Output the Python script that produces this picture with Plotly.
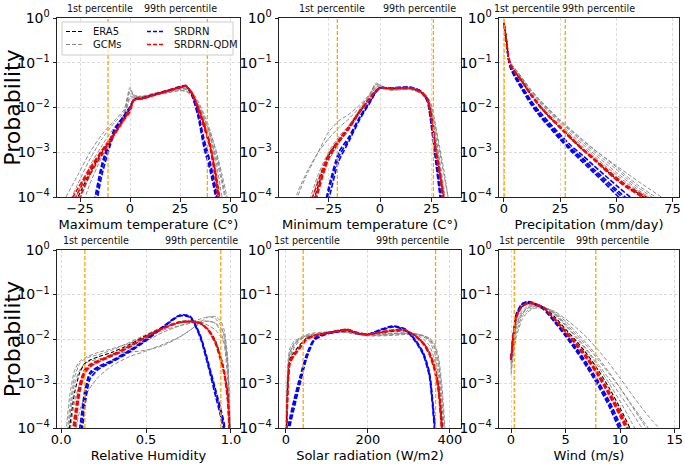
import numpy as np
import plotly.graph_objects as go

# ------------------------------------------------------------------
# Data.  All curve values are log10(probability).
# ------------------------------------------------------------------

# ---- Maximum temperature ----
maxT_x = [-32, -26, -20, -14, -8, -3, 0, 2, 6, 12, 18, 24, 28, 31, 34, 37, 40, 43, 46, 50]
maxT_era5 = [-4.6, -4.0, -3.45, -3.0, -2.6, -2.25, -2.02, -1.82, -1.80, -1.72, -1.64, -1.57, -1.53, -1.69, -2.03, -2.4, -2.85, -3.53, -4.5, -6.0]
maxT_gcms = [
    [-4.0, -3.5, -3.0, -2.6, -2.3, -2.05, -1.55, -1.75, -1.78, -1.72, -1.67, -1.62, -1.64, -1.75, -2.0, -2.3, -2.65, -3.1, -3.7, -4.6],
    [-4.6, -3.9, -3.3, -2.85, -2.45, -2.15, -1.65, -1.75, -1.76, -1.72, -1.66, -1.6, -1.6, -1.7, -1.95, -2.25, -2.6, -3.2, -4.0, -5.0],
    [-5.2, -4.2, -3.5, -3.0, -2.55, -2.2, -1.75, -1.77, -1.76, -1.70, -1.64, -1.58, -1.58, -1.68, -1.9, -2.2, -2.6, -3.4, -4.3, -5.5],
    [-5.5, -4.5, -3.7, -3.1, -2.6, -2.25, -1.8, -1.78, -1.75, -1.68, -1.62, -1.57, -1.57, -1.65, -1.85, -2.15, -2.5, -3.0, -3.6, -4.5],
    [-4.3, -3.7, -3.15, -2.7, -2.35, -2.1, -1.6, -1.72, -1.75, -1.72, -1.68, -1.63, -1.63, -1.72, -1.95, -2.25, -2.55, -2.95, -3.5, -4.3],
]
maxT_srdrn = [
    [-7.0, -6.2, -4.8, -3.35, -2.55, -2.2, -2.0, -1.82, -1.79, -1.71, -1.63, -1.55, -1.51, -1.72, -2.15, -2.8, -3.3, -3.95, -5.0, -6.5],
    [-7.0, -6.5, -5.0, -3.5, -2.6, -2.22, -2.02, -1.83, -1.80, -1.72, -1.64, -1.56, -1.52, -1.74, -2.2, -2.9, -3.4, -4.05, -5.2, -6.5],
    [-7.0, -6.0, -4.6, -3.25, -2.5, -2.18, -1.98, -1.81, -1.79, -1.71, -1.63, -1.55, -1.51, -1.70, -2.1, -2.7, -3.2, -3.85, -4.9, -6.5],
]
maxT_qdm = [
    [-4.5, -3.9, -3.4, -2.98, -2.6, -2.27, -2.05, -1.83, -1.80, -1.72, -1.64, -1.56, -1.52, -1.68, -2.0, -2.38, -2.85, -3.6, -4.6, -6.0],
    [-4.8, -4.1, -3.5, -3.05, -2.63, -2.28, -2.1, -1.84, -1.81, -1.73, -1.65, -1.57, -1.53, -1.67, -1.98, -2.35, -2.8, -3.5, -4.4, -6.0],
    [-4.3, -3.8, -3.35, -2.95, -2.58, -2.24, -2.0, -1.82, -1.79, -1.71, -1.63, -1.56, -1.52, -1.70, -2.05, -2.45, -2.9, -3.7, -4.8, -6.0],
]
maxT_pct = [-11.0, 38.7]
maxT_tickvals = [-25, 0, 25, 50]
maxT_ticktext = ["\u221225", "0", "25", "50"]

# ---- Minimum temperature ----
minT_x = [-45, -40, -35, -30, -25, -20, -15, -10, -5, -2, 0, 5, 10, 15, 20, 23, 25, 27, 29, 31, 33, 36]
minT_era5 = [-6.0, -5.2, -4.5, -3.75, -3.08, -2.74, -2.44, -2.1, -1.8, -1.62, -1.56, -1.58, -1.57, -1.57, -1.66, -1.8, -2.2, -2.95, -3.45, -4.1, -4.9, -6.0]
minT_gcms = [
    [-5.0, -4.0, -3.45, -3.0, -2.55, -2.3, -2.15, -1.95, -1.7, -1.45, -1.5, -1.6, -1.6, -1.6, -1.68, -1.82, -2.05, -2.5, -3.0, -3.5, -4.0, -5.0],
    [-4.6, -3.9, -3.4, -3.0, -2.7, -2.45, -2.25, -2.0, -1.72, -1.5, -1.5, -1.6, -1.6, -1.58, -1.65, -1.78, -2.0, -2.6, -3.2, -3.8, -4.5, -5.5],
    [-6.0, -5.0, -4.2, -3.5, -3.0, -2.65, -2.4, -2.1, -1.75, -1.55, -1.52, -1.6, -1.58, -1.58, -1.7, -1.85, -2.15, -2.8, -3.4, -4.1, -4.8, -6.0],
    [-6.0, -5.5, -4.6, -3.8, -3.2, -2.8, -2.5, -2.15, -1.78, -1.55, -1.55, -1.62, -1.6, -1.59, -1.65, -1.75, -1.95, -2.4, -2.9, -3.4, -4.0, -5.0],
    [-6.0, -5.3, -4.4, -3.6, -3.05, -2.7, -2.4, -2.05, -1.72, -1.48, -1.52, -1.58, -1.6, -1.6, -1.68, -1.8, -2.1, -2.7, -3.3, -4.0, -4.8, -6.0],
]
minT_srdrn = [
    [-7.0, -7.0, -6.5, -5.2, -3.9, -3.1, -2.7, -2.25, -1.88, -1.65, -1.56, -1.57, -1.55, -1.55, -1.64, -1.85, -2.4, -3.1, -3.85, -4.6, -5.5, -7.0],
    [-7.0, -7.0, -6.8, -5.5, -4.1, -3.2, -2.75, -2.28, -1.9, -1.66, -1.57, -1.57, -1.56, -1.56, -1.65, -1.87, -2.45, -3.2, -3.95, -4.7, -5.6, -7.0],
    [-7.0, -7.0, -6.2, -5.0, -3.8, -3.0, -2.65, -2.22, -1.86, -1.64, -1.56, -1.56, -1.55, -1.55, -1.64, -1.83, -2.35, -3.05, -3.8, -4.5, -5.4, -7.0],
]
minT_qdm = [
    [-6.0, -5.3, -4.6, -3.8, -3.1, -2.75, -2.45, -2.1, -1.8, -1.62, -1.56, -1.57, -1.56, -1.56, -1.65, -1.82, -2.25, -2.95, -3.5, -4.2, -5.0, -6.0],
    [-6.0, -5.0, -4.3, -3.65, -3.05, -2.72, -2.42, -2.08, -1.79, -1.62, -1.56, -1.57, -1.56, -1.57, -1.66, -1.8, -2.2, -2.9, -3.4, -4.0, -4.8, -6.0],
    [-6.0, -5.5, -4.8, -3.9, -3.15, -2.78, -2.47, -2.12, -1.81, -1.63, -1.57, -1.58, -1.57, -1.57, -1.66, -1.83, -2.3, -3.0, -3.55, -4.25, -5.1, -6.0],
]
minT_pct = [-20.7, 25.9]
minT_tickvals = [-25, 0, 25]
minT_ticktext = ["\u221225", "0", "25"]

# ---- Precipitation ----
precip_x = [0, 1, 2, 3, 5, 8, 12, 16, 20, 25, 30, 35, 40, 45, 50, 55, 60, 65, 70, 75]
precip_era5 = [-0.12, -0.46, -0.86, -1.06, -1.22, -1.42, -1.72, -1.98, -2.2, -2.45, -2.7, -2.94, -3.15, -3.38, -3.6, -3.78, -3.93, -4.1, -4.3, -4.5]
precip_gcms = [
    [-0.1, -0.43, -0.82, -1.0, -1.13, -1.33, -1.6, -1.83, -2.03, -2.28, -2.5, -2.72, -2.93, -3.13, -3.33, -3.55, -3.75, -3.92, -4.08, -4.25],
    [-0.1, -0.44, -0.83, -1.02, -1.15, -1.35, -1.63, -1.87, -2.07, -2.32, -2.55, -2.77, -2.98, -3.18, -3.38, -3.6, -3.8, -3.97, -4.15, -4.35],
    [-0.11, -0.45, -0.84, -1.03, -1.17, -1.37, -1.66, -1.9, -2.1, -2.36, -2.6, -2.82, -3.03, -3.24, -3.45, -3.65, -3.85, -4.02, -4.2, -4.4],
    [-0.1, -0.44, -0.83, -1.01, -1.14, -1.34, -1.61, -1.85, -2.05, -2.3, -2.52, -2.73, -2.94, -3.12, -3.3, -3.48, -3.66, -3.83, -4.0, -4.2],
    [-0.11, -0.45, -0.85, -1.04, -1.19, -1.39, -1.69, -1.94, -2.15, -2.4, -2.64, -2.87, -3.08, -3.3, -3.5, -3.7, -3.88, -4.05, -4.22, -4.4],
]
precip_srdrn = [
    [-0.12, -0.5, -0.9, -1.1, -1.3, -1.55, -1.88, -2.15, -2.37, -2.65, -2.92, -3.13, -3.38, -3.6, -3.83, -4.05, -4.3, -4.55, -4.8, -5.0],
    [-0.12, -0.52, -0.92, -1.13, -1.34, -1.6, -1.93, -2.2, -2.43, -2.72, -2.98, -3.22, -3.46, -3.7, -3.95, -4.2, -4.45, -4.7, -5.0, -5.2],
    [-0.12, -0.49, -0.89, -1.08, -1.27, -1.52, -1.84, -2.1, -2.33, -2.6, -2.86, -3.07, -3.3, -3.52, -3.74, -3.95, -4.15, -4.4, -4.65, -4.9],
    [-0.12, -0.51, -0.91, -1.12, -1.32, -1.57, -1.9, -2.17, -2.4, -2.68, -2.95, -3.17, -3.42, -3.65, -3.88, -4.12, -4.37, -4.62, -4.9, -5.1],
]
precip_qdm = [
    [-0.12, -0.47, -0.86, -1.06, -1.21, -1.41, -1.71, -1.97, -2.19, -2.44, -2.69, -2.93, -3.15, -3.37, -3.58, -3.77, -3.93, -4.1, -4.3, -4.5],
    [-0.12, -0.47, -0.87, -1.07, -1.23, -1.43, -1.73, -1.99, -2.21, -2.46, -2.71, -2.95, -3.17, -3.4, -3.62, -3.8, -3.96, -4.15, -4.35, -4.55],
    [-0.12, -0.46, -0.85, -1.05, -1.2, -1.4, -1.7, -1.96, -2.18, -2.43, -2.68, -2.92, -3.13, -3.35, -3.56, -3.75, -3.9, -4.05, -4.25, -4.45],
]
precip_pct = [0.1, 27.3]
precip_tickvals = [0, 25, 50, 75]
precip_ticktext = ["0", "25", "50", "75"]

# ---- Relative humidity ----
rh_x = [0.02, 0.05, 0.08, 0.11, 0.14, 0.17, 0.22, 0.3, 0.4, 0.5, 0.6, 0.7, 0.76, 0.82, 0.87, 0.91, 0.94, 0.96, 0.98, 0.995]
rh_era5 = [-5.5, -4.0, -3.2, -2.75, -2.55, -2.47, -2.4, -2.3, -2.13, -1.92, -1.75, -1.63, -1.61, -1.66, -1.8, -2.05, -2.4, -2.7, -3.2, -4.2]
rh_gcms = [
    [-4.5, -3.3, -2.7, -2.5, -2.42, -2.37, -2.3, -2.22, -2.1, -1.95, -1.8, -1.7, -1.65, -1.6, -1.6, -1.65, -1.75, -1.9, -2.5, -4.0],
    [-6.0, -5.0, -4.2, -3.6, -3.3, -3.1, -2.85, -2.6, -2.4, -2.27, -2.12, -1.95, -1.8, -1.62, -1.5, -1.5, -1.6, -1.8, -2.4, -4.0],
    [-5.0, -3.8, -3.0, -2.7, -2.55, -2.5, -2.45, -2.38, -2.25, -2.05, -1.85, -1.7, -1.62, -1.55, -1.5, -1.55, -1.7, -1.95, -2.6, -4.2],
    [-5.5, -4.2, -3.4, -3.0, -2.8, -2.65, -2.5, -2.35, -2.3, -2.25, -2.15, -1.95, -1.8, -1.65, -1.6, -1.65, -1.85, -2.1, -2.9, -4.5],
    [-5.0, -3.6, -2.85, -2.55, -2.45, -2.4, -2.35, -2.25, -2.08, -1.9, -1.72, -1.6, -1.58, -1.62, -1.7, -1.8, -1.95, -2.1, -2.6, -4.0],
]
rh_srdrn = [
    [-7.0, -6.5, -5.0, -4.3, -3.3, -2.8, -2.65, -2.5, -2.28, -2.02, -1.73, -1.47, -1.5, -1.95, -2.62, -3.2, -3.65, -4.0, -5.0, -6.0],
    [-7.0, -6.8, -5.3, -4.6, -3.5, -2.9, -2.68, -2.52, -2.3, -2.04, -1.74, -1.48, -1.52, -1.98, -2.68, -3.3, -3.75, -4.1, -5.1, -6.0],
    [-7.0, -6.2, -4.8, -4.0, -3.15, -2.75, -2.62, -2.48, -2.26, -2.0, -1.72, -1.46, -1.49, -1.92, -2.58, -3.15, -3.58, -3.9, -4.9, -6.0],
]
rh_qdm = [
    [-6.0, -5.0, -3.9, -3.1, -2.72, -2.6, -2.5, -2.37, -2.18, -1.95, -1.76, -1.62, -1.6, -1.64, -1.82, -2.1, -2.45, -2.75, -3.3, -4.5],
    [-6.0, -4.7, -3.7, -3.0, -2.68, -2.57, -2.48, -2.35, -2.16, -1.94, -1.75, -1.62, -1.6, -1.65, -1.83, -2.12, -2.5, -2.8, -3.4, -4.6],
    [-6.0, -5.3, -4.1, -3.2, -2.76, -2.62, -2.52, -2.38, -2.19, -1.96, -1.77, -1.63, -1.61, -1.64, -1.8, -2.08, -2.42, -2.72, -3.25, -4.4],
]
rh_pct = [0.14, 0.94]
rh_tickvals = [0.0, 0.5, 1.0]
rh_ticktext = ["0.0", "0.5", "1.0"]

# ---- Solar radiation ----
solar_x = [0, 5, 10, 20, 35, 50, 70, 100, 130, 150, 175, 200, 230, 260, 290, 315, 335, 350, 362, 372, 380, 388, 395]
solar_era5 = [-4.5, -2.9, -2.45, -2.3, -2.12, -1.98, -1.92, -1.86, -1.81, -1.79, -1.87, -1.9, -1.86, -1.83, -1.82, -1.92, -2.08, -2.3, -2.6, -3.05, -3.8, -5.0, -6.0]
solar_gcms = [
    [-4.0, -2.5, -2.2, -2.05, -1.98, -1.93, -1.9, -1.88, -1.86, -1.86, -1.9, -1.92, -1.92, -1.9, -1.88, -1.88, -1.92, -2.0, -2.15, -2.5, -3.2, -4.2, -5.0],
    [-4.5, -2.8, -2.4, -2.15, -2.0, -1.92, -1.88, -1.86, -1.84, -1.84, -1.88, -1.9, -1.9, -1.88, -1.86, -1.88, -1.95, -2.05, -2.3, -2.8, -3.6, -4.8, -6.0],
    [-4.2, -2.6, -2.3, -2.1, -2.0, -1.95, -1.9, -1.87, -1.85, -1.85, -1.9, -1.93, -1.93, -1.92, -1.9, -1.9, -1.93, -1.98, -2.1, -2.4, -3.0, -4.0, -5.0],
    [-4.8, -3.0, -2.5, -2.2, -2.02, -1.95, -1.9, -1.85, -1.83, -1.83, -1.87, -1.9, -1.88, -1.87, -1.87, -1.9, -2.0, -2.15, -2.45, -3.0, -3.9, -5.0, -6.0],
    [-4.3, -2.65, -2.3, -2.1, -1.97, -1.9, -1.86, -1.84, -1.83, -1.84, -1.89, -1.91, -1.9, -1.89, -1.88, -1.89, -1.93, -2.02, -2.2, -2.6, -3.4, -4.5, -5.5],
]
solar_srdrn = [
    [-6.0, -4.1, -3.85, -3.45, -2.9, -2.4, -2.0, -1.88, -1.82, -1.8, -1.87, -1.9, -1.8, -1.72, -1.78, -2.03, -2.33, -2.8, -3.9, -5.0, -6.0, -6.0, -6.0],
    [-6.0, -4.3, -3.95, -3.55, -2.98, -2.45, -2.02, -1.89, -1.83, -1.81, -1.88, -1.9, -1.81, -1.73, -1.79, -2.05, -2.36, -2.85, -4.0, -5.2, -6.0, -6.0, -6.0],
    [-6.0, -4.0, -3.75, -3.35, -2.82, -2.35, -1.98, -1.87, -1.81, -1.79, -1.86, -1.89, -1.79, -1.71, -1.77, -2.01, -2.3, -2.75, -3.8, -4.9, -6.0, -6.0, -6.0],
]
solar_qdm = [
    [-5.0, -3.0, -2.5, -2.35, -2.17, -2.0, -1.92, -1.87, -1.81, -1.79, -1.87, -1.9, -1.85, -1.81, -1.8, -1.93, -2.1, -2.33, -2.65, -3.1, -4.0, -5.0, -6.0],
    [-5.0, -3.1, -2.55, -2.38, -2.2, -2.02, -1.93, -1.87, -1.82, -1.8, -1.87, -1.9, -1.85, -1.81, -1.8, -1.94, -2.12, -2.36, -2.7, -3.2, -4.1, -5.0, -6.0],
    [-5.0, -2.95, -2.48, -2.33, -2.15, -1.99, -1.92, -1.86, -1.8, -1.78, -1.86, -1.89, -1.84, -1.8, -1.79, -1.92, -2.08, -2.3, -2.6, -3.05, -3.9, -5.0, -6.0],
]
solar_pct = [42.0, 365.0]
solar_tickvals = [0, 200, 400]
solar_ticktext = ["0", "200", "400"]

# ---- Wind ----
wind_x = [0, 0.2, 0.5, 1.0, 1.5, 2.0, 2.5, 3, 4, 5, 6, 7, 8, 9, 10, 11, 12, 13, 14, 15]
wind_era5 = [-2.45, -1.97, -1.52, -1.28, -1.21, -1.2, -1.23, -1.29, -1.5, -1.78, -2.05, -2.35, -2.7, -3.1, -3.55, -4.05, -4.6, -5.2, -5.8, -6.4]
wind_gcms = [
    [-2.6, -2.2, -1.75, -1.45, -1.32, -1.27, -1.26, -1.28, -1.45, -1.7, -1.98, -2.28, -2.62, -3.0, -3.4, -3.85, -4.3, -4.8, -5.3, -5.8],
    [-2.7, -2.3, -1.85, -1.5, -1.36, -1.3, -1.28, -1.28, -1.4, -1.6, -1.85, -2.12, -2.42, -2.75, -3.1, -3.48, -3.85, -4.25, -4.65, -5.05],
    [-2.5, -2.1, -1.65, -1.38, -1.27, -1.24, -1.25, -1.28, -1.42, -1.65, -1.9, -2.17, -2.47, -2.78, -3.1, -3.45, -3.8, -4.15, -4.5, -4.85],
    [-2.8, -2.4, -1.95, -1.57, -1.4, -1.32, -1.3, -1.3, -1.38, -1.55, -1.75, -1.98, -2.25, -2.55, -2.88, -3.22, -3.55, -3.85, -4.1, -4.4],
    [-2.55, -2.15, -1.7, -1.42, -1.3, -1.26, -1.26, -1.28, -1.43, -1.68, -1.95, -2.25, -2.57, -2.9, -3.25, -3.62, -4.0, -4.4, -4.8, -5.2],
]
wind_srdrn = [
    [-2.45, -1.95, -1.45, -1.22, -1.17, -1.19, -1.25, -1.32, -1.6, -1.91, -2.24, -2.6, -3.0, -3.45, -4.0, -4.6, -5.2, -5.8, -6.4, -7.0],
    [-2.47, -1.97, -1.47, -1.23, -1.18, -1.2, -1.26, -1.34, -1.62, -1.94, -2.28, -2.65, -3.06, -3.52, -4.08, -4.7, -5.3, -5.9, -6.5, -7.1],
    [-2.43, -1.93, -1.43, -1.21, -1.16, -1.18, -1.24, -1.31, -1.58, -1.88, -2.2, -2.56, -2.95, -3.39, -3.92, -4.5, -5.1, -5.7, -6.3, -6.9],
]
wind_qdm = [
    [-2.45, -1.95, -1.5, -1.27, -1.2, -1.2, -1.24, -1.3, -1.55, -1.84, -2.12, -2.43, -2.8, -3.22, -3.68, -4.2, -4.8, -5.4, -6.0, -6.6],
    [-2.47, -1.97, -1.51, -1.28, -1.21, -1.21, -1.25, -1.31, -1.56, -1.86, -2.15, -2.47, -2.84, -3.27, -3.74, -4.27, -4.87, -5.5, -6.1, -6.7],
    [-2.43, -1.94, -1.49, -1.26, -1.19, -1.19, -1.23, -1.29, -1.54, -1.82, -2.1, -2.4, -2.77, -3.18, -3.63, -4.14, -4.72, -5.3, -5.9, -6.5],
]
wind_pct = [0.3, 7.77]
wind_tickvals = [0, 5, 10, 15]
wind_ticktext = ["0", "5", "10", "15"]

# y axis (probability) ticks
prob_tickvals = [1e-4, 1e-3, 1e-2, 1e-1, 1]
prob_ticktext = ["10<sup>\u22124</sup>", "10<sup>\u22123</sup>", "10<sup>\u22122</sup>",
                 "10<sup>\u22121</sup>", "10<sup>0</sup>"]

series_names = ["ERA5", "GCMs", "SRDRN", "SRDRN-QDM"]
pct_labels = ["1st percentile", "99th percentile"]

# ------------------------------------------------------------------
# Layout geometry (pixels)
# ------------------------------------------------------------------
W, H = 685, 464
FONT = "DejaVu Sans"
cols_px = [(57, 240), (279, 461), (499, 679)]
rows_px = [(18, 197), (250, 428)]

panels = [
    dict(x=maxT_x, era5=maxT_era5, gcms=maxT_gcms, srdrn=maxT_srdrn, qdm=maxT_qdm, pct=maxT_pct,
         tv=maxT_tickvals, tt=maxT_ticktext, xr=[-36.5, 55], title="Maximum temperature (C°)",
         txt=(100, 180)),
    dict(x=minT_x, era5=minT_era5, gcms=minT_gcms, srdrn=minT_srdrn, qdm=minT_qdm, pct=minT_pct,
         tv=minT_tickvals, tt=minT_ticktext, xr=[-49, 39.3], title="Minimum temperature (C°)",
         txt=(332, 419)),
    dict(x=precip_x, era5=precip_era5, gcms=precip_gcms, srdrn=precip_srdrn, qdm=precip_qdm, pct=precip_pct,
         tv=precip_tickvals, tt=precip_ticktext, xr=[-2.2, 77.9], title="Precipitation (mm/day)",
         txt=(527, 598)),
    dict(x=rh_x, era5=rh_era5, gcms=rh_gcms, srdrn=rh_srdrn, qdm=rh_qdm, pct=rh_pct,
         tv=rh_tickvals, tt=rh_ticktext, xr=[-0.024, 1.053], title="Relative Humidity",
         txt=(96, 201)),
    dict(x=solar_x, era5=solar_era5, gcms=solar_gcms, srdrn=solar_srdrn, qdm=solar_qdm, pct=solar_pct,
         tv=solar_tickvals, tt=solar_ticktext, xr=[-17, 427], title="Solar radiation (W/m2)",
         txt=(307, 413)),
    dict(x=wind_x, era5=wind_era5, gcms=wind_gcms, srdrn=wind_srdrn, qdm=wind_qdm, pct=wind_pct,
         tv=wind_tickvals, tt=wind_ticktext, xr=[-1.1, 15.4], title="Wind (m/s)",
         txt=(532, 612)),
]

GRAY, BLACK, BLUE, RED, ORANGE = "#8a8a8a", "#000000", "#0000ff", "#ff0000", "#ffa500"
style = {
    "GCMs": dict(color=GRAY, width=1.0, dash="4px,2px"),
    "ERA5": dict(color=BLACK, width=1.1, dash="4px,2px"),
    "SRDRN": dict(color=BLUE, width=1.6, dash="5px,2px"),
    "SRDRN-QDM": dict(color=RED, width=1.6, dash="5px,2px"),
}

fig = go.Figure()
layout = {}
shapes = []
annotations = []

def add_line(xs, logvals, name, xa, ya):
    fig.add_trace(go.Scatter(
        x=xs, y=np.power(10.0, np.array(logvals, dtype=float)), mode="lines",
        name=name, legendgroup=name, showlegend=False,
        line=dict(shape="spline", smoothing=0.6, **style[name]),
        xaxis=xa, yaxis=ya, hoverinfo="skip"))

for i, p in enumerate(panels):
    n = i + 1
    suf = "" if n == 1 else str(n)
    xa, ya = "x" + suf, "y" + suf
    r, c = divmod(i, 3)
    x0p, x1p = cols_px[c]
    y0p, y1p = rows_px[r]

    for g in p["gcms"]:
        add_line(p["x"], g, "GCMs", xa, ya)
    add_line(p["x"], p["era5"], "ERA5", xa, ya)
    for s in p["srdrn"]:
        add_line(p["x"], s, "SRDRN", xa, ya)
    for q in p["qdm"]:
        add_line(p["x"], q, "SRDRN-QDM", xa, ya)

    common = dict(showline=True, mirror=True, linecolor="#222", linewidth=1,
                  ticks="outside", ticklen=3.5, tickwidth=1, tickcolor="#222",
                  showgrid=True, gridcolor="#dcdcdc", griddash="3px,2px", gridwidth=0.8,
                  zeroline=False, automargin=False)
    layout["xaxis" + suf] = dict(
        domain=[x0p / W, x1p / W], anchor=ya, range=p["xr"],
        tickmode="array", tickvals=p["tv"], ticktext=p["tt"],
        tickfont=dict(size=13, family=FONT, color="black"), ticklabelstandoff=-4,
        title=dict(text=p["title"], font=dict(size=13, family=FONT, color="black"), standoff=4),
        **common)
    ytitle = dict(text="Probability", font=dict(size=22, family=FONT, color="black"), standoff=5) if c == 0 else None
    layout["yaxis" + suf] = dict(
        domain=[1 - y1p / H, 1 - y0p / H], anchor=xa, type="log", range=[-4, 0],
        tickmode="array", tickvals=prob_tickvals, ticktext=prob_ticktext,
        tickfont=dict(size=14, family=FONT, color="black"),
        title=ytitle, **common)

    for v in p["pct"]:
        shapes.append(dict(type="line", xref=xa, yref=ya + " domain", x0=v, x1=v, y0=0, y1=1,
                           line=dict(color=ORANGE, width=1.3, dash="4px,2px"), layer="above"))
    ty = y0p - 10
    for lbl, cx in zip(pct_labels, p["txt"]):
        annotations.append(dict(text=lbl, xref="paper", yref="paper", x=cx / W, y=1 - ty / H,
                                xanchor="center", yanchor="middle", showarrow=False,
                                font=dict(size=9.6, family=FONT, color="#111")))

# ---- legend box drawn in panel 1 ----
lg_x0, lg_x1, lg_y0, lg_y1 = 62, 233, 22, 55
shapes.append(dict(type="rect", xref="paper", yref="paper",
                   x0=lg_x0 / W, x1=lg_x1 / W, y0=1 - lg_y1 / H, y1=1 - lg_y0 / H,
                   fillcolor="rgba(255,255,255,0.8)", line=dict(color="#cccccc", width=1), layer="above"))
legend_items = [("ERA5", 66, 31.5), ("GCMs", 66, 44.5), ("SRDRN", 147, 31.5), ("SRDRN-QDM", 147, 44.5)]
for name, hx, hy in legend_items:
    st = style[name]
    shapes.append(dict(type="line", xref="paper", yref="paper",
                       x0=hx / W, x1=(hx + 17) / W, y0=1 - hy / H, y1=1 - hy / H,
                       line=dict(color=st["color"], width=st["width"], dash="4px,2px"), layer="above"))
    annotations.append(dict(text=name, xref="paper", yref="paper", x=(hx + 25) / W, y=1 - hy / H,
                            xanchor="left", yanchor="middle", showarrow=False,
                            font=dict(size=10, family=FONT, color="#111")))

fig.update_layout(
    width=W, height=H, margin=dict(l=0, r=0, t=0, b=0),
    paper_bgcolor="white", plot_bgcolor="white",
    font=dict(family=FONT, color="black"),
    showlegend=False, shapes=shapes, annotations=annotations, **layout)

fig.write_html("out.html", config={"displayModeBar": False},
               post_script="document.body.style.margin='0px';document.body.style.overflow='hidden';")
